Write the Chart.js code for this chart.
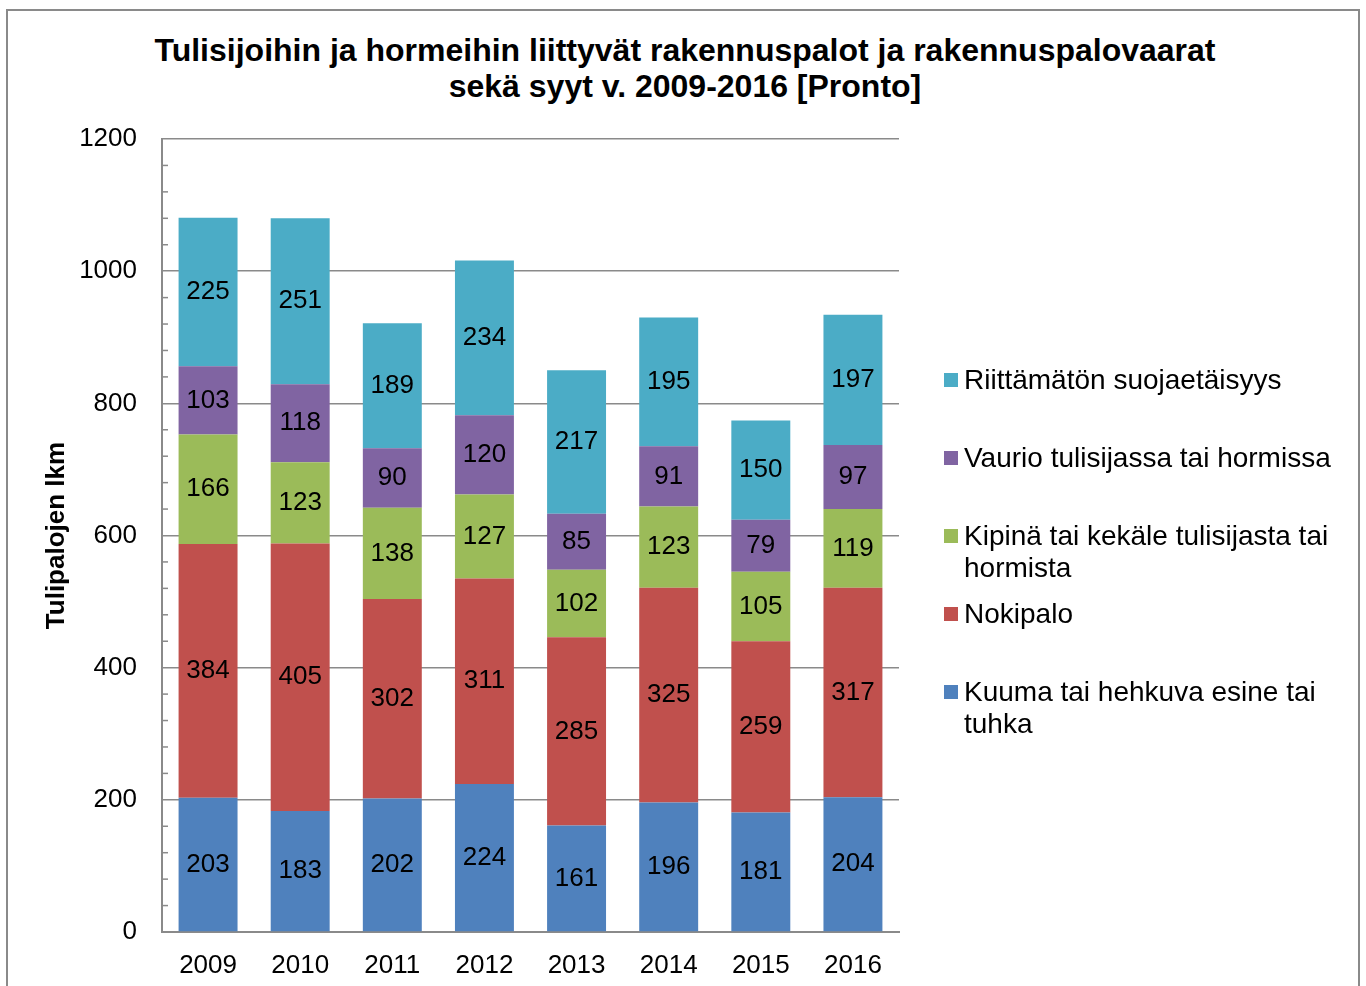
<!DOCTYPE html>
<html>
<head>
<meta charset="utf-8">
<script src="https://cdn.jsdelivr.net/npm/chart.js@4.4.1/dist/chart.umd.min.js"></script>
<style>
body{margin:0;background:#fff;font-family:Arial,"Liberation Sans",sans-serif;}
#wrap{position:relative;width:1366px;height:986px;overflow:hidden;}
#frame{position:absolute;left:6px;top:9px;width:1350px;height:1000px;border:2px solid #8a8a8a;}
#title{position:absolute;left:0;top:32px;width:1370px;text-align:center;font-weight:bold;font-size:32px;line-height:36px;color:#000;}
canvas{position:absolute;left:0;top:0;}
.item{position:absolute;left:944px;width:410px;font-size:28px;line-height:32px;color:#000;}
.item .box{position:absolute;left:0;top:9px;width:14px;height:14px;}
.item .txt{display:block;margin-left:20px;width:375px;}
</style>
</head>
<body>
<div id="wrap">
<div id="frame"></div>
<div id="title">Tulisijoihin ja hormeihin liittyvät rakennuspalot ja rakennuspalovaarat<br>sekä syyt v. 2009-2016 [Pronto]</div>
<canvas id="chart" width="1366" height="986"></canvas>
<div id="legend"></div>
</div>
<script>
// ================= DATA =================
const years = ["2009", "2010", "2011", "2012", "2013", "2014", "2015", "2016"];

const kuuma = [203, 183, 202, 224, 161, 196, 181, 204];
const nokipalo = [384, 405, 302, 311, 285, 325, 259, 317];
const kipina = [166, 123, 138, 127, 102, 123, 105, 119];
const vaurio = [103, 118, 90, 120, 85, 91, 79, 97];
const suojaetaisyys = [225, 251, 189, 234, 217, 195, 150, 197];

const seriesNames = [
    "Kuuma tai hehkuva esine tai tuhka",
    "Nokipalo",
    "Kipinä tai kekäle tulisijasta tai hormista",
    "Vaurio tulisijassa tai hormissa",
    "Riittämätön suojaetäisyys"
];
const seriesColors = ["#4f81bd", "#c0504d", "#9bbb59", "#8064a2", "#4bacc6"];
const seriesValues = [kuuma, nokipalo, kipina, vaurio, suojaetaisyys];

const gridGray = "#8a8a8a";

// ================= PLUGINS =================
const segmentLabels = {
    id: "segmentLabels",
    afterDatasetsDraw(chart) {
        const ctx = chart.ctx;
        ctx.save();
        ctx.font = "26px Arial, 'Liberation Sans', sans-serif";
        ctx.fillStyle = "#000";
        ctx.textAlign = "center";
        ctx.textBaseline = "middle";
        chart.data.datasets.forEach((ds, i) => {
            chart.getDatasetMeta(i).data.forEach((bar, j) => {
                ctx.fillText(ds.data[j], bar.x, (bar.y + bar.base) / 2);
            });
        });
        ctx.restore();
    }
};

const minorTicks = {
    id: "minorTicks",
    afterDraw(chart) {
        const ctx = chart.ctx;
        const y = chart.scales.y;
        const left = chart.chartArea.left;
        ctx.save();
        ctx.strokeStyle = gridGray;
        ctx.lineWidth = 1.5;
        for (let v = 40; v < 1200; v += 40) {
            if (v % 200 === 0) continue;
            const py = y.getPixelForValue(v);
            ctx.beginPath();
            ctx.moveTo(left, py);
            ctx.lineTo(left + 6, py);
            ctx.stroke();
        }
        ctx.restore();
    }
};

// ================= CHART =================
const chart = new Chart(document.getElementById("chart").getContext("2d"), {
    type: "bar",
    data: {
        labels: years,
        datasets: seriesValues.map((vals, i) => ({
            label: seriesNames[i],
            data: vals,
            backgroundColor: seriesColors[i],
            borderWidth: 0,
            barPercentage: 0.64,
            categoryPercentage: 1
        }))
    },
    options: {
        responsive: false,
        animation: false,
        layout: { padding: { left: 0, top: 139, right: 467, bottom: 0 } },
        plugins: {
            legend: { display: false },
            title: { display: false },
            tooltip: { enabled: false }
        },
        scales: {
            x: {
                stacked: true,
                grid: { display: false, drawTicks: false },
                border: { color: gridGray, width: 2 },
                ticks: {
                    color: "#000",
                    font: { size: 26, family: "Arial, 'Liberation Sans', sans-serif" },
                    padding: 18
                },
                afterFit(s) { s.height = 54; }
            },
            y: {
                stacked: true,
                min: 0,
                max: 1200,
                ticks: {
                    stepSize: 200,
                    color: "#000",
                    font: { size: 26, family: "Arial, 'Liberation Sans', sans-serif" },
                    padding: 25,
                    callback: v => String(v)
                },
                grid: { color: gridGray, lineWidth: 1.5, drawTicks: false },
                border: { color: gridGray, width: 2 },
                title: {
                    display: true,
                    text: "Tulipalojen lkm",
                    color: "#000",
                    font: { size: 26, weight: "bold", family: "Arial, 'Liberation Sans', sans-serif" },
                    padding: { top: 41, bottom: 0 }
                },
                afterFit(s) { s.width = 162; }
            }
        }
    },
    plugins: [segmentLabels, minorTicks]
});

// ================= LEGEND =================
const legendBox = document.getElementById("legend");
const legendTop = 364;
const legendStep = 78;

chart.data.datasets.slice().reverse().forEach((ds, i) => {
    const item = document.createElement("div");
    item.className = "item";
    item.style.top = (legendTop + i * legendStep) + "px";
    item.innerHTML =
        '<span class="box" style="background:' + ds.backgroundColor + '"></span>' +
        '<span class="txt">' + ds.label + '</span>';
    legendBox.appendChild(item);
});
</script>
</body>
</html>
